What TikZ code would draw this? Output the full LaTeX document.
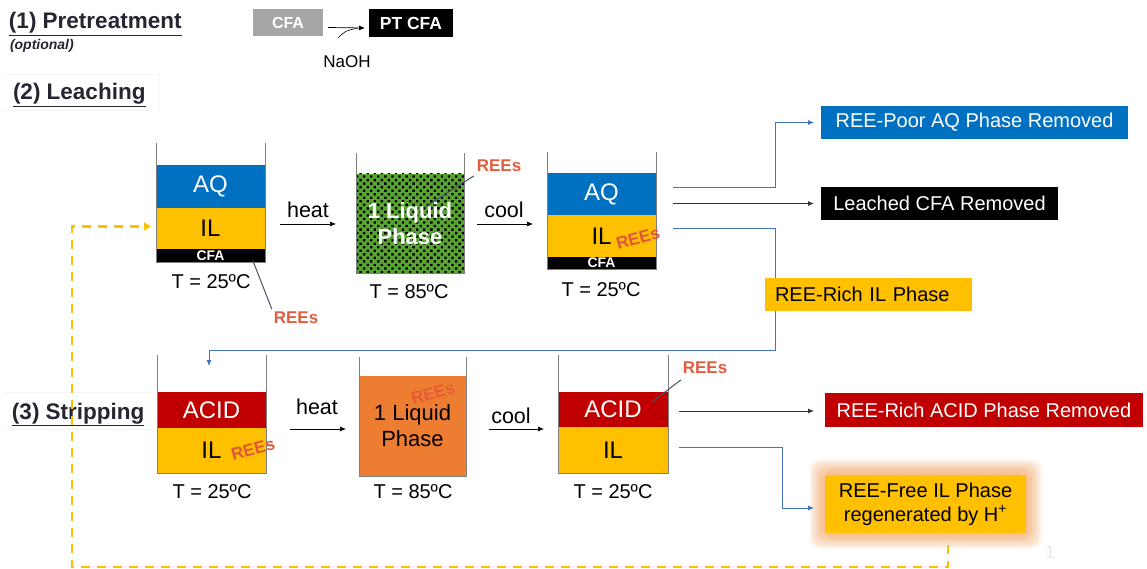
\documentclass[tikz,border=0pt]{standalone}
\usepackage{fontspec}
\setmainfont{Liberation Sans}
\usetikzlibrary{arrows.meta,patterns.meta,calc}
\definecolor{aqblue}{HTML}{0070C0}
\definecolor{ilyel}{HTML}{FFC000}
\definecolor{acidred}{HTML}{C00000}
\definecolor{liqor}{HTML}{ED7D31}
\definecolor{glowcol}{HTML}{F79646}
\definecolor{liqgreen}{HTML}{58A631}
\definecolor{reecol}{HTML}{DE5F3F}
\definecolor{linkblue}{HTML}{4472C4}
\definecolor{leadcol}{HTML}{44546A}
\definecolor{headcol}{HTML}{262633}
\definecolor{wallcol}{HTML}{7F7F7F}
\definecolor{cfagrey}{HTML}{A6A6A6}
\newcommand{\fsz}[2]{\fontsize{#1}{#2}\selectfont}
\begin{document}
\begin{tikzpicture}[x=1pt,y=-1pt,
  every node/.style={inner sep=0pt, outer sep=0pt},
  layer/.style 2 args={rectangle, minimum width=#1pt, minimum height=#2pt, font=\fsz{24}{28}},
  wall/.style={draw=wallcol, line width=0.9pt},
  ree/.style={text=reecol, font=\bfseries\fsz{17}{20}},
  tlabel/.style={font=\fsz{20}{24}},
  word/.style={font=\fsz{21.5}{25}},
  arr/.style={draw=black, line width=0.7pt, -{Latex[length=6pt,width=5pt]}},
  lead/.style={draw=leadcol, line width=1pt},
  blueline/.style={draw=linkblue, line width=0.8pt, -{Latex[length=6pt,width=5pt]}},
  blackline/.style={draw=black!80, line width=0.8pt, -{Latex[length=6pt,width=5pt]}},
  outbox/.style={rectangle, font=\fsz{20}{24}},
  hdr/.style={anchor=base west, text=headcol, font=\bfseries\fsz{22.5}{27}},
  dashline/.style={draw=ilyel, line width=2.6pt, dash pattern=on 9pt off 7pt, -{Triangle[length=7pt,width=8pt]}}
]
\useasboundingbox[fill=white] (0,0) rectangle (1147,569);

% ---------- headers ----------
\draw[gray!8, line width=0.8pt] (3,74) -- (159,74) -- (159,110) -- (3,110);
\draw[gray!8, line width=0.8pt] (3,392) -- (152,392);
\draw[gray!8, line width=0.8pt] (3,429) -- (152,429);
\node[hdr] (pre) at (9,29) {\underline{(1) Pretreatment}};
\node[anchor=base west, text=headcol, font=\bfseries\itshape\fsz{14}{17}] (opt) at (10,50) {(optional)};
\node[hdr] (leach) at (13,100) {\underline{(2) Leaching}};
\node[hdr] (strip) at (12,419) {\underline{(3) Stripping}};

% ---------- pretreatment ----------
\node[rectangle, fill=cfagrey, text=white, minimum width=70pt, minimum height=27pt, font=\bfseries\fsz{16}{19}] (cfa0) at (288,22.5) {CFA};
\node[rectangle, fill=black, text=white, minimum width=84pt, minimum height=28pt, font=\bfseries\fsz{17.5}{20}] (ptcfa) at (411,23) {PT CFA};
\draw[arr] ([xshift=5pt,yshift=-5pt]cfa0.east) -- ([xshift=-4pt,yshift=-5pt]ptcfa.west);
\node[font=\fsz{17}{20}] (naoh) at (347,62) {NaOH};
\coordinate (naohc) at (338,38);
\draw[black, line width=0.6pt] (naohc) .. controls (345,31) .. (358,28);

% ---------- leaching beaker 1 ----------
\node[layer={109}{43}, fill=aqblue, text=white] (aq1) at (210.5,186.5) {AQ};
\node[layer={109}{41}, fill=ilyel] (il1) at (210.5,228.5) {IL};
\node[layer={109}{13}, fill=black, text=white, font=\bfseries\fsz{14}{16}] (cfa1) at (210.5,255.5) {CFA};
\draw[wall] (156,143) |- (265,262) -- (265,143);
\node[tlabel] (t1) at (211,282) {T = 25ºC};
\node[ree] (r1) at (296,318) {REEs};
\coordinate (r1a) at (253,261);
\draw[lead] (r1a) -- ($(r1.north west)+(-2,-3)$);

% heat arrow
\node[word] (heat1) at (308,210) {heat};
\coordinate (h1s) at (280,224); \coordinate (h1e) at (336,224);
\draw[arr] (h1s) -- (h1e);

% ---------- leaching beaker 2 ----------
\node[layer={108}{99}, preaction={fill=liqgreen}, pattern={Dots[distance=5pt,radius=1.65pt,angle=45]}, pattern color=black, text=white, align=center, font=\bfseries\fsz{22}{26}] (liq1) at (410,223.5) {1 Liquid\\Phase};
\draw[wall] (356,153) |- (464,273) -- (464,153);
\node[tlabel] (t2) at (409,292) {T = 85ºC};
\node[ree] (r2) at (499,166) {REEs};
\coordinate (r2a) at (425,207);
\draw[lead] (r2a) -- ($(r2.south west)+(-3,4)$);

% cool arrow
\node[word] (cool1) at (504,210) {cool};
\coordinate (c1s) at (477,224); \coordinate (c1e) at (533,224);
\draw[arr] (c1s) -- (c1e);

% ---------- leaching beaker 3 ----------
\node[layer={109}{42}, fill=aqblue, text=white] (aq3) at (601.5,194) {AQ};
\node[layer={109}{42}, fill=ilyel] (il3) at (601.5,236) {IL};
\node[layer={109}{12}, fill=black, text=white, font=\bfseries\fsz{14}{16}] (cfa3) at (601.5,263) {CFA};
\draw[wall] (547,152) |- (656,269) -- (656,152);
\node[ree, rotate=15, text=reecol!90!red] (r3) at (638,238) {REEs};
\node[tlabel] (t3) at (601,290) {T = 25ºC};

% outputs of beaker 3
\coordinate (o1) at (673,187);
\coordinate (o2) at (673,203.5);
\coordinate (o3) at (673,228);
\coordinate (k1) at (775,187);
\coordinate (k3) at (775,228);
\coordinate (k4) at (775,350);
\coordinate (in4) at (209,366);
\draw[blueline] (o3) -- (k3) -- (k4) -| (in4);
\node[outbox, fill=aqblue, text=white, minimum width=307pt, minimum height=33pt] (poor) at (974.5,122.5) {REE-Poor AQ Phase Removed};
\node[outbox, fill=black, text=white, minimum width=237pt, minimum height=33pt] (lcfa) at (939.5,203.5) {Leached CFA Removed};
\node[outbox, fill=ilyel, text width=187pt, inner xsep=10pt, align=left, minimum height=33pt] (rich) at (868.5,294.5) {REE-Rich IL Phase};
\draw[blueline] (o1) -- (k1) |- ([xshift=-7pt]poor.west);
\draw[blackline] (o2) -- ([xshift=-7pt]lcfa.west);

% ---------- stripping beaker 4 ----------
\node[layer={109}{36}, fill=acidred, text=white] (acid4) at (211.5,410) {ACID};
\node[layer={109}{45}, fill=ilyel] (il4) at (211.5,450.5) {IL};
\draw[wall] (157,355) |- (266,473) -- (266,355);
\node[ree, rotate=15, text=reecol!90!red] (r4) at (253,449) {REEs};
\node[tlabel] (t4) at (212,492) {T = 25ºC};

\node[word] (heat2) at (317,407) {heat};
\coordinate (h2s) at (290,429); \coordinate (h2e) at (346,429);
\draw[arr] (h2s) -- (h2e);

% ---------- stripping beaker 5 ----------
\node[layer={107}{100}, fill=liqor, align=center, font=\fsz{22}{26}] (liq5) at (412.5,426) {1 Liquid\\Phase};
\draw[wall] (359,357) |- (466,476) -- (466,357);
\node[ree, rotate=15, text=reecol!85!red, opacity=0.75] (r5) at (433,393) {REEs};
\node[tlabel] (t5) at (413,492) {T = 85ºC};

\node[word] (cool2) at (511,416) {cool};
\coordinate (c2s) at (489,429); \coordinate (c2e) at (544,429);
\draw[arr] (c2s) -- (c2e);

% ---------- stripping beaker 6 ----------
\node[layer={110}{35}, fill=acidred, text=white] (acid6) at (613,409.5) {ACID};
\node[layer={110}{46}, fill=ilyel] (il6) at (613,450) {IL};
\draw[wall] (558,355) |- (668,473) -- (668,355);
\node[ree] (r6) at (705,368) {REEs};
\coordinate (r6a) at (652,402);
\draw[lead] (r6a) -- ($(r6.south west)+(-2,6)$);
\node[tlabel] (t6) at (613,492) {T = 25ºC};

% glow behind REE-free box
\foreach \i in {1,...,16} {
  \fill[glowcol, opacity=0.05, rounded corners=10pt] ({825-\i},{475-\i}) rectangle ({1026+\i},{533+\i});
}
\node[outbox, fill=acidred, text=white, minimum width=318pt, minimum height=34pt] (acidrem) at (984,410) {REE-Rich ACID Phase Removed};
\node[outbox, fill=ilyel, minimum width=201pt, minimum height=58pt, align=center] (free) at (925.5,504) {REE-Free IL Phase\\regenerated by H\textsuperscript{+}};

\coordinate (p1) at (679,411);
\coordinate (p2) at (679,447);
\coordinate (q2) at (782,447);
\draw[blackline] (p1) -- ([xshift=-11pt]acidrem.west |- p1);
\draw[blueline] (p2) -- (q2) |- ([xshift=-11pt,yshift=-4pt]free.west);

% recycle dashed line
\coordinate (d0) at (948,545);
\coordinate (d1) at (72,567);
\draw[dashline, shorten >=5pt] (d0) |- (d1) |- ([yshift=2pt]il1.west);

% slide number
\node[text=gray!18, font=\fsz{18}{20}] (pg) at (1050,552) {1};
\end{tikzpicture}
\end{document}
